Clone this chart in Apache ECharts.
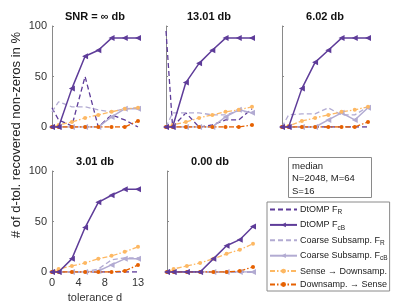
<!DOCTYPE html>
<html><head><meta charset="utf-8">
<script src="https://cdn.jsdelivr.net/npm/echarts@6/dist/echarts.min.js"></script>
<style>html,body{margin:0;padding:0;background:#fff}#c{width:407px;height:305px}</style>
</head><body><div id="c"></div>
<script>
const tolerance = [0, 1, 3, 5, 7, 9, 11, 13];
const panelTitles = ['SNR = \u221e db', '13.01 db', '6.02 db', '3.01 db', '0.00 db'];
const yTicks = [0, 50, 100];
const xTicks = [0, 4, 8, 13];
const seriesNames = ['DtOMP F_R', 'DtOMP F_cB', 'Coarse Subsamp. F_R', 'Coarse Subsamp. F_cB', 'Sense \u2192 Downsamp.', 'Downsamp. \u2192 Sense'];

const dtompR = [
  [19, 7, 1, 50, 0, 12, 7, 0],
  [95, 0, 14, 0, 2, 7, 7, 18],
  [0, 0, 0, 0, 0, 0, 0, 0],
  [0, 0, 0, 0, 0, 0, 0, 0],
  [0, 0, 0, 0, 0, 0, 0, 0]
];
const dtompCB = [
  [0, 0, 38, 70, 76, 88, 88, 88],
  [0, 0, 44, 63, 76, 88, 88, 88],
  [0, 0, 38, 64, 76, 88, 88, 88],
  [0, 0, 13, 44, 69, 76, 82, 82],
  [0, 0, 0, 0, 13, 26, 32, 45]
];
const coarseR = [
  [15, 25, 20, 20, 17, 15, 18, 19],
  [0, 14, 14, 14, 12, 12, 16, 14],
  [0, 12, 13, 13, 19, 12, 12, 20],
  [0, 0, 0, 0, 3, 12, 14, 14],
  [0, 0, 0, 0, 0, 0, 0, 0]
];
const coarseCB = [
  [0, 0, 0, 0, 0, 10, 18, 18],
  [0, 0, 0, 0, 0, 10, 17, 14],
  [0, 0, 0, 0, 7, 14, 7, 19],
  [0, 0, 0, 0, 1, 7, 13, 13],
  [0, 0, 0, 0, 0, 0, 0, 0]
];
const senseDown = [
  [0, 2, 5, 9, 12, 15, 18, 19],
  [0, 2, 5, 9, 12, 15, 17, 20],
  [0, 1, 6, 9, 12, 15, 17, 20],
  [0, 3, 6, 9, 13, 16, 20, 25],
  [0, 3, 6, 9, 13, 18, 22, 28]
];
const downSense = [
  [0, 0, 0, 0, 0, 0, 0, 6],
  [0, 0, 0, 0, 0, 0, 0, 2],
  [0, 0, 0, 0, 0, 0, 0, 5],
  [0, 0, 0, 0, 0, 0, 1, 7],
  [0, 0, 0, 0, 0, 0, 1, 5]
];
const infoLines = ['median', 'N=2048, M=64', 'S=16'];

const C_DARK = '#5e3c99', C_LIGHT = '#b2abd2', C_ORL = '#fdb863', C_ORD = '#e66101';
const FONT = 'Liberation Sans';

const gridPos = [
  {left: 52, top: 26}, {left: 166, top: 26}, {left: 282, top: 26},
  {left: 52, top: 171}, {left: 167, top: 171}
];
const GW = 86, GH = 101;

const styles = [
  {data: dtompR, color: C_DARK, type: [5, 3], width: 1.3, symbol: 'none'},
  {data: dtompCB, color: C_DARK, type: 'solid', width: 1.5, symbol: 'triangle', size: 6, rot: 90},
  {data: coarseR, color: C_LIGHT, type: [5, 3], width: 1.3, symbol: 'none'},
  {data: coarseCB, color: C_LIGHT, type: 'solid', width: 1.5, symbol: 'triangle', size: 6, rot: 90},
  {data: senseDown, color: C_ORL, type: [5, 2, 1.5, 2], width: 1.3, symbol: 'circle', size: 4},
  {data: downSense, color: C_ORD, type: [5, 2, 1.5, 2], width: 1.3, symbol: 'circle', size: 4}
];

const grid = [], xAxis = [], yAxis = [], series = [], title = [];
gridPos.forEach((g, i) => {
  grid.push({left: g.left, top: g.top, width: GW, height: GH, containLabel: false});
  const showY = (i === 0 || i === 3);
  const showX = (i === 3);
  xAxis.push({
    type: 'value', gridIndex: i, min: 0, max: 13,
    axisLine: {show: false},
    axisTick: {show: false},
    splitLine: {show: false},
    axisLabel: {show: showX, customValues: xTicks, color: '#333', fontSize: 11, fontFamily: FONT, margin: 5},
    name: showX ? 'tolerance d' : '', nameLocation: 'middle', nameGap: 20,
    nameTextStyle: {color: '#333', fontSize: 11, fontFamily: FONT}
  });
  yAxis.push({
    type: 'value', gridIndex: i, min: 0, max: 100, interval: 50,
    axisLine: {show: true, lineStyle: {color: '#8a8a8a', width: 1}},
    axisTick: {show: true, inside: true, length: 2, lineStyle: {color: '#8a8a8a'}},
    splitLine: {show: false},
    axisLabel: {show: showY, color: '#333', fontSize: 11, fontFamily: FONT, margin: 5}
  });
  title.push({
    text: panelTitles[i], left: g.left + GW / 2, top: g.top - 15, textAlign: 'center',
    textStyle: {fontSize: 11, fontWeight: 'bold', color: '#111', fontFamily: FONT}, padding: 0
  });
  styles.forEach((s, k) => {
    series.push({
      type: 'line', name: seriesNames[k], xAxisIndex: i, yAxisIndex: i,
      data: tolerance.map((t, j) => [t, s.data[i][j]]),
      symbol: s.symbol, symbolSize: s.size || 0, symbolRotate: s.rot || 0,
      showSymbol: s.symbol !== 'none',
      itemStyle: {color: s.color},
      lineStyle: {color: s.color, width: s.width, type: s.type},
      animation: false, silent: true, z: k === 1 ? 5 : 2
    });
  });
});

const legendLabel = {
  'DtOMP F_R': 'DtOMP F{sub|R}',
  'DtOMP F_cB': 'DtOMP F{sub|cB}',
  'Coarse Subsamp. F_R': 'Coarse Subsamp. F{sub|R}',
  'Coarse Subsamp. F_cB': 'Coarse Subsamp. F{sub|cB}'
};
const legendData = seriesNames.map((n, k) =>
  styles[k].symbol === 'none' ? {name: n, itemStyle: {opacity: 0}} : {name: n});

const chart = echarts.init(document.getElementById('c'), null, {renderer: 'canvas'});
chart.setOption({
  animation: false,
  backgroundColor: '#fff',
  title: title,
  grid: grid, xAxis: xAxis, yAxis: yAxis, series: series,
  legend: {
    data: legendData, orient: 'vertical', left: 267, top: 202,
    itemWidth: 27, itemHeight: 6, itemGap: 4.4,
    borderColor: '#8a8a8a', borderWidth: 1, borderRadius: 0, padding: [3, 2, 2, 2],
    backgroundColor: '#fff',
    formatter: n => legendLabel[n] || n,
    textStyle: {fontSize: 9, color: '#222', fontFamily: FONT, padding: [0, 0, 0, -2],
      rich: {sub: {fontSize: 6.5, fontFamily: FONT, color: '#222', padding: [6, 0, 0, 0]}}},
    selectedMode: false
  },
  graphic: [
    {type: 'text', rotation: Math.PI / 2,
      style: {text: '# of d-tol. recovered non-zeros in %', fontSize: 13, fontFamily: FONT, fill: '#222',
        align: 'center', verticalAlign: 'middle'},
      x: 16, y: 135},
    {type: 'rect', shape: {x: 288.5, y: 157.5, width: 83, height: 40},
      style: {fill: '#fff', stroke: '#8a8a8a', lineWidth: 1}},
    {type: 'text', x: 292, y: 160,
      style: {text: infoLines.join('\n'), fontSize: 9.5, lineHeight: 12.5, fontFamily: FONT, fill: '#222'}}
  ]
});
</script></body></html>
